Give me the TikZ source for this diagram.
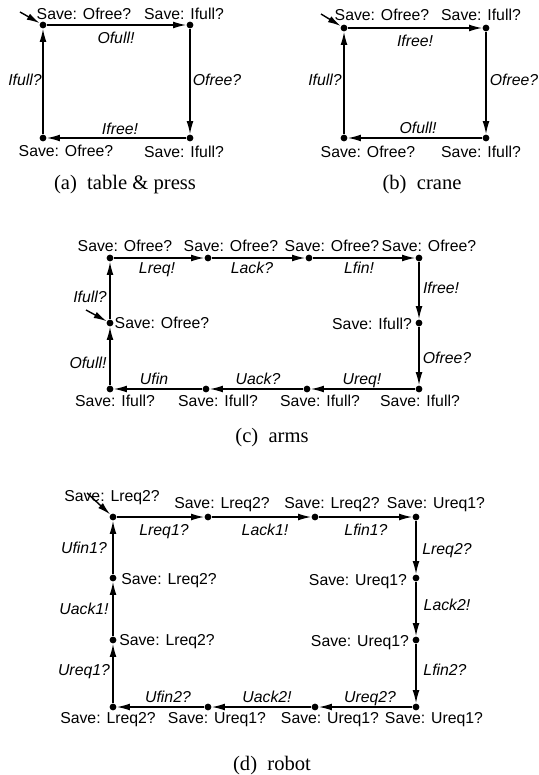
\documentclass[tikz,border=0pt]{standalone}
\usepackage{fontspec}
\setmainfont{Liberation Serif}
\setsansfont{Liberation Sans}
\usetikzlibrary{arrows.meta}

\tikzset{
  st/.style={circle,fill,inner sep=0pt,minimum size=3.4pt},
  tr/.style={-{Latex[length=6.5pt,width=3.4pt]},line width=0.7pt},
  lab/.style={font=\sffamily\fontsize{7.9}{9}\selectfont,inner sep=0pt,text height=5.7pt,text depth=0pt},
  act/.style={lab,font=\sffamily\itshape\fontsize{7.9}{9}\selectfont},
  subcap/.style={font=\fontsize{10.3}{12}\selectfont,inner sep=0pt,text height=7pt,text depth=0pt}
}

\begin{document}
\begin{tikzpicture}[x=0.5pt,y=-0.5pt]
	\useasboundingbox (0,0) rectangle (538,775);

	% (a) table & press
	\node[st] (a1) at (43,25) {};
	\node[st] (a2) at (190,25) {};
	\node[st] (a3) at (190,138) {};
	\node[st] (a4) at (43,138) {};
	\coordinate (a0) at (20,12);
	\draw[tr] (a0) -- (a1);
	\draw[tr] (a1) -- (a2);
	\draw[tr] (a2) -- (a3);
	\draw[tr] (a3) -- (a4);
	\draw[tr] (a4) -- (a1);
	\node[lab] at (84,14) {Save: Ofree?};
	\node[lab] at (184,14) {Save: Ifull?};
	\node[act] at (116,38) {Ofull!};
	\node[act] at (217,80) {Ofree?};
	\node[act] at (120,129) {Ifree!};
	\node[act] at (25,80) {Ifull?};
	\node[lab] at (66,151) {Save: Ofree?};
	\node[lab] at (184,152) {Save: Ifull?};
	\node[subcap] at (125,183) {(a)\hspace{0.5em}table \& press};

	% (b) crane
	\node[st] (b1) at (344,28) {};
	\node[st] (b2) at (486,28) {};
	\node[st] (b3) at (486,138) {};
	\node[st] (b4) at (344,138) {};
	\coordinate (b0) at (321,14);
	\draw[tr] (b0) -- (b1);
	\draw[tr] (b1) -- (b2);
	\draw[tr] (b2) -- (b3);
	\draw[tr] (b3) -- (b4);
	\draw[tr] (b4) -- (b1);
	\node[lab] at (382,15) {Save: Ofree?};
	\node[lab] at (481,15) {Save: Ifull?};
	\node[act] at (415,41) {Ifree!};
	\node[act] at (325,80) {Ifull?};
	\node[act] at (514,80) {Ofree?};
	\node[act] at (418,128) {Ofull!};
	\node[lab] at (368,152) {Save: Ofree?};
	\node[lab] at (481,152) {Save: Ifull?};
	\node[subcap] at (422,183) {(b)\hspace{0.5em}crane};

	% (c) arms
	\node[st] (c1) at (110,258) {};
	\node[st] (c2) at (208,258) {};
	\node[st] (c3) at (309,258) {};
	\node[st] (c4) at (419,258) {};
	\node[st] (c5) at (419,323) {};
	\node[st] (c6) at (419,389) {};
	\node[st] (c7) at (307,389) {};
	\node[st] (c8) at (206,389) {};
	\node[st] (c9) at (110,389) {};
	\node[st] (c10) at (110,323) {};
	\coordinate (c0) at (86,310);
	\draw[tr] (c0) -- (c10);
	\foreach \i/\j in {1/2,2/3,3/4,4/5,5/6,6/7,7/8,8/9,9/10,10/1}
		\draw[tr] (c\i) -- (c\j);
	\foreach \x in {125,231,332,429} \node[lab] at (\x,246) {Save: Ofree?};
	\foreach \x in {115,218,320,420} \node[lab] at (\x,401) {Save: Ifull?};
	\node[act] at (157,268) {Lreq!};
	\node[act] at (252,268) {Lack?};
	\node[act] at (359,268) {Lfin!};
	\node[act] at (441,288) {Ifree!};
	\node[lab] at (372,324) {Save: Ifull?};
	\node[act] at (447,358) {Ofree?};
	\node[act] at (154,379) {Ufin};
	\node[act] at (258,379) {Uack?};
	\node[act] at (362,379) {Ureq!};
	\node[act] at (90,297) {Ifull?};
	\node[lab] at (162,323) {Save: Ofree?};
	\node[act] at (88,363) {Ofull!};
	\node[subcap] at (272,435) {(c)\hspace{0.5em}arms};

	% (d) robot
	\node[st] (d1) at (113,517) {};
	\node[st] (d2) at (208,517) {};
	\node[st] (d3) at (315,517) {};
	\node[st] (d4) at (416,517) {};
	\node[st] (d5) at (416,578) {};
	\node[st] (d6) at (416,640) {};
	\node[st] (d7) at (416,707) {};
	\node[st] (d8) at (315,707) {};
	\node[st] (d9) at (208,707) {};
	\node[st] (d10) at (113,707) {};
	\node[st] (d11) at (113,640) {};
	\node[st] (d12) at (113,578) {};
	\coordinate (d0) at (87,493);
	\draw[tr] (d0) -- (d1);
	\foreach \i/\j in {1/2,2/3,3/4,4/5,5/6,6/7,7/8,8/9,9/10,10/11,11/12,12/1}
		\draw[tr] (d\i) -- (d\j);
	\node[lab] at (112,496) {Save: Lreq2?};
	\node[lab] at (222,503) {Save: Lreq2?};
	\node[lab] at (332,503) {Save: Lreq2?};
	\node[lab] at (436,503) {Save: Ureq1?};
	\node[act] at (164,530) {Lreq1?};
	\node[act] at (265,530) {Lack1!};
	\node[act] at (366,530) {Lfin1?};
	\node[act] at (447,549) {Lreq2?};
	\node[lab] at (358,580) {Save: Ureq1?};
	\node[act] at (447,605) {Lack2!};
	\node[lab] at (360,641) {Save: Ureq1?};
	\node[act] at (445,670) {Lfin2?};
	\node[act] at (168,697) {Ufin2?};
	\node[act] at (267,697) {Uack2!};
	\node[act] at (370,697) {Ureq2?};
	\node[lab] at (108,718) {Save: Lreq2?};
	\foreach \x in {217,330,434} \node[lab] at (\x,718) {Save: Ureq1?};
	\node[act] at (84,548) {Ufin1?};
	\node[lab] at (169,579) {Save: Lreq2?};
	\node[act] at (84,609) {Uack1!};
	\node[lab] at (167,640) {Save: Lreq2?};
	\node[act] at (84,670) {Ureq1?};
	\node[subcap] at (272,763) {(d)\hspace{0.5em}robot};
\end{tikzpicture}
\end{document}
